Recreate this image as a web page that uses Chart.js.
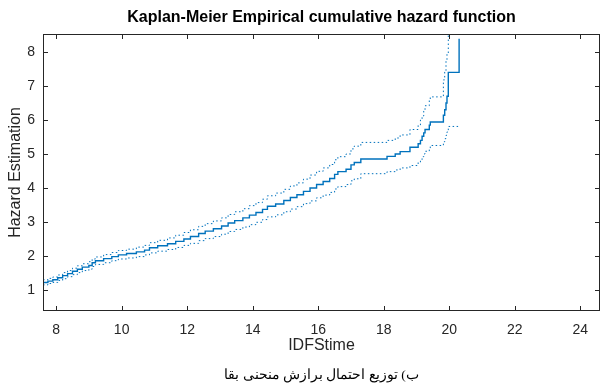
<!DOCTYPE html>
<html lang="fa">
<head>
    <meta charset="UTF-8">
    <title>Kaplan-Meier cumulative hazard</title>
    <script src="https://cdn.jsdelivr.net/npm/chart.js"></script>
    <style>
        body { margin: 0; background: #fff; }
    </style>
</head>
<body>
    <canvas id="hazardChart" width="605" height="390"></canvas>

    <script>
        // step times (IDFStime) and the cumulative hazard with its bounds
        const times = [7.60, 7.75, 7.90, 8.05, 8.20, 8.35, 8.50, 8.65, 8.80, 9.00,
            9.10, 9.20, 9.45, 9.70, 9.90, 10.15, 10.45, 10.70, 10.85, 11.10,
            11.40, 11.65, 11.90, 12.10, 12.35, 12.55, 12.80, 13.05, 13.25, 13.45,
            13.70, 13.90, 14.10, 14.30, 14.45, 14.70, 14.95, 15.15, 15.35, 15.55,
            15.75, 15.95, 16.15, 16.35, 16.50, 16.60, 16.85, 17.00, 17.10, 17.30,
            18.10, 18.35, 18.50, 18.80, 19.05, 19.12, 19.17, 19.22, 19.26, 19.39,
            19.42, 19.82, 19.86, 19.90, 19.93, 19.97, 20.30];
        const hazard = [1.22, 1.26, 1.30, 1.36, 1.42, 1.48, 1.55, 1.61, 1.67, 1.72,
            1.80, 1.86, 1.92, 1.98, 2.03, 2.07, 2.12, 2.17, 2.24, 2.30,
            2.36, 2.43, 2.50, 2.57, 2.66, 2.73, 2.80, 2.88, 2.97, 3.04,
            3.12, 3.20, 3.28, 3.37, 3.46, 3.53, 3.63, 3.72, 3.80, 3.90,
            4.00, 4.10, 4.19, 4.28, 4.40, 4.48, 4.55, 4.68, 4.75, 4.85,
            4.93, 5.00, 5.07, 5.20, 5.30, 5.40, 5.52, 5.62, 5.72, 5.85,
            5.94, 6.14, 6.30, 6.50, 6.70, 7.40, 8.39];
        const hazardLower = [1.15, 1.19, 1.22, 1.28, 1.33, 1.39, 1.45, 1.51, 1.57, 1.61,
            1.69, 1.75, 1.80, 1.86, 1.91, 1.94, 1.98, 2.03, 2.09, 2.14,
            2.19, 2.25, 2.31, 2.37, 2.45, 2.51, 2.57, 2.64, 2.72, 2.78,
            2.85, 2.92, 2.99, 3.07, 3.15, 3.21, 3.30, 3.38, 3.45, 3.54,
            3.62, 3.71, 3.79, 3.87, 3.97, 4.04, 4.10, 4.21, 4.27, 4.42,
            4.48, 4.53, 4.59, 4.66, 4.75, 4.83, 4.92, 5.00, 5.08, 5.15,
            5.25, 5.36, 5.45, 5.55, 5.65, 5.81, 5.81];
        const hazardUpper = [1.30, 1.34, 1.38, 1.44, 1.51, 1.57, 1.64, 1.71, 1.77, 1.83,
            1.91, 1.97, 2.04, 2.10, 2.16, 2.20, 2.26, 2.31, 2.39, 2.46,
            2.53, 2.61, 2.69, 2.77, 2.87, 2.95, 3.03, 3.12, 3.22, 3.30,
            3.39, 3.48, 3.57, 3.67, 3.77, 3.85, 3.96, 4.06, 4.15, 4.26,
            4.38, 4.49, 4.59, 4.69, 4.83, 4.92, 5.00, 5.15, 5.23, 5.34,
            5.40, 5.47, 5.56, 5.72, 5.85, 6.00, 6.12, 6.28, 6.42, 6.58,
            6.68, 7.18, 7.45, 7.75, 7.97, 10.0, null];

        const xTicks = [8, 10, 12, 14, 16, 18, 20, 22, 24];
        const yTicks = [1, 2, 3, 4, 5, 6, 7, 8];

        const chartTitle = 'Kaplan-Meier Empirical cumulative hazard function';
        const caption = 'ب) توزیع احتمال برازش منحنی بقا';

        const blue = '#0072BD';
        const axisColor = '#262626';
        const sans = '"Liberation Sans", Arial, sans-serif';

        function toPoints(values) {
            return times.map((t, i) => ({ x: t, y: values[i] }));
        }

        // box, inward ticks (MATLAB style), title and caption
        const matlabFrame = {
            id: 'matlabFrame',
            afterDraw(chart) {
                const { ctx, chartArea: a, scales } = chart;
                ctx.save();
                ctx.strokeStyle = axisColor;
                ctx.lineWidth = 1;
                ctx.strokeRect(a.left + 0.5, a.top + 0.5, a.right - a.left - 1, a.bottom - a.top - 1);
                ctx.beginPath();
                xTicks.forEach(v => {
                    const px = Math.round(scales.x.getPixelForValue(v)) + 0.5;
                    ctx.moveTo(px, a.bottom); ctx.lineTo(px, a.bottom - 5);
                    ctx.moveTo(px, a.top); ctx.lineTo(px, a.top + 5);
                });
                yTicks.forEach(v => {
                    const py = Math.round(scales.y.getPixelForValue(v)) + 0.5;
                    ctx.moveTo(a.left, py); ctx.lineTo(a.left + 5, py);
                    ctx.moveTo(a.right, py); ctx.lineTo(a.right - 5, py);
                });
                ctx.stroke();

                const cx = (a.left + a.right) / 2;
                ctx.fillStyle = '#000';
                ctx.textAlign = 'center';
                ctx.textBaseline = 'middle';
                ctx.font = 'bold 16px ' + sans;
                ctx.fillText(chartTitle, cx, 18);
                ctx.font = '13.5px "Times New Roman", "Liberation Serif", serif';
                ctx.direction = 'rtl';
                ctx.fillText(caption, cx, 375);
                ctx.restore();
            }
        };

        const ctx = document.getElementById('hazardChart').getContext('2d');
        new Chart(ctx, {
            type: 'line',
            data: {
                datasets: [{
                    label: 'Hazard',
                    data: toPoints(hazard),
                    borderColor: blue,
                    borderWidth: 1.4,
                    stepped: 'before',
                    pointRadius: 0
                }, {
                    label: 'Lower bound',
                    data: toPoints(hazardLower),
                    borderColor: blue,
                    borderWidth: 1,
                    borderDash: [1.5, 2.5],
                    stepped: 'before',
                    pointRadius: 0
                }, {
                    label: 'Upper bound',
                    data: toPoints(hazardUpper),
                    borderColor: blue,
                    borderWidth: 1,
                    borderDash: [1.5, 2.5],
                    stepped: 'before',
                    pointRadius: 0
                }]
            },
            options: {
                responsive: false,
                animation: false,
                layout: { padding: { top: 34, right: 5, bottom: 30, left: 0 } },
                plugins: {
                    legend: { display: false },
                    title: { display: false },
                    tooltip: { enabled: false }
                },
                scales: {
                    x: {
                        type: 'linear',
                        min: 7.6,
                        max: 24.6,
                        afterFit: s => { s.height = 49; },
                        grid: { display: false, drawTicks: false },
                        border: { display: false },
                        ticks: {
                            stepSize: 2,
                            includeBounds: false,
                            padding: 11,
                            color: axisColor,
                            font: { family: sans, size: 14 }
                        },
                        title: {
                            display: true,
                            text: 'IDFStime',
                            color: axisColor,
                            padding: { top: 0, bottom: 5 },
                            font: { family: sans, size: 16 }
                        }
                    },
                    y: {
                        min: 0.38,
                        max: 8.53,
                        afterFit: s => { s.width = 43; },
                        grid: { display: false, drawTicks: false },
                        border: { display: false },
                        ticks: {
                            stepSize: 1,
                            includeBounds: false,
                            padding: 8,
                            color: axisColor,
                            font: { family: sans, size: 14 }
                        },
                        title: {
                            display: true,
                            text: 'Hazard Estimation',
                            color: axisColor,
                            padding: { top: 6, bottom: 0 },
                            font: { family: sans, size: 16 }
                        }
                    }
                }
            },
            plugins: [matlabFrame]
        });
    </script>
</body>
</html>
